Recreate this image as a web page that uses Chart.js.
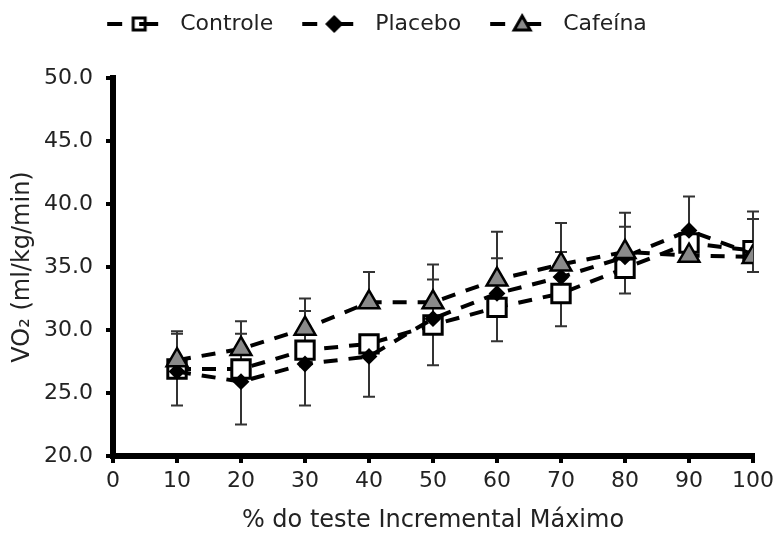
<!DOCTYPE html>
<html>
<head>
<meta charset="utf-8">
<script src="https://cdn.jsdelivr.net/npm/chart.js@4"></script>
<style>
  html, body { margin: 0; padding: 0; background: #fff; }
  #box { width: 779px; height: 534px; }
</style>
</head>
<body>
<div id="box"><canvas id="grafico"></canvas></div>
<script>
// dados
const percentuais = [10, 20, 30, 40, 50, 60, 70, 80, 90, 100];
const controle = [26.9, 26.9, 28.4, 28.9, 30.4, 31.8, 32.9, 34.9, 36.9, 36.3];
const placebo  = [26.7, 25.9, 27.3, 27.9, 30.9, 32.9, 34.2, 35.8, 37.9, 36.0];
const cafeina  = [27.6, 28.5, 30.1, 32.2, 32.2, 34.0, 35.2, 36.2, 35.9, 35.8];

// extremidades das barras de erro
const controleSup = [29.7, 29.7, 31.5, null, 34.0, 35.7, 36.2, 38.2, null, 38.8];
const placeboInf  = [24.0, 22.5, 24.0, 24.7, 27.2, 29.1, 30.3, 32.9, null, 34.6];
const cafeinaSup  = [29.9, 30.7, 32.5, 34.6, 35.2, 37.8, 38.5, 39.3, 40.6, 39.4];

const ticksY = [20, 25, 30, 35, 40, 45, 50];
const fonte = "'DejaVu Sans', sans-serif";
const corTexto = "#222";

function pontos(valores) {
  return valores.map((v, i) => ({ x: percentuais[i], y: v }));
}

// desenha o simbolo da legenda (traco + marcador)
function simboloLegenda(estilo) {
  const c = document.createElement("canvas");
  c.width = 80;
  c.height = 26;
  const ctx = c.getContext("2d");
  const cx = 50, cy = 13;
  ctx.strokeStyle = "#000";
  ctx.lineWidth = 4;
  ctx.beginPath();
  ctx.moveTo(18, cy); ctx.lineTo(33, cy);
  ctx.moveTo(cx, cy); ctx.lineTo(69, cy);
  ctx.stroke();
  ctx.lineWidth = 3;
  ctx.beginPath();
  if (estilo === "rect") {
    ctx.rect(cx - 6, cy - 6, 12, 12);
    ctx.fillStyle = "#fff";
  } else if (estilo === "rectRot") {
    ctx.moveTo(cx - 7, cy); ctx.lineTo(cx, cy - 7); ctx.lineTo(cx + 7, cy); ctx.lineTo(cx, cy + 7);
    ctx.closePath();
    ctx.fillStyle = "#000";
  } else {
    ctx.moveTo(cx, cy - 8); ctx.lineTo(cx + 8, cy + 6); ctx.lineTo(cx - 8, cy + 6);
    ctx.closePath();
    ctx.fillStyle = "#8a8a8a";
  }
  ctx.fill();
  ctx.stroke();
  if (estilo === "rect") {
    ctx.lineWidth = 4;
    ctx.beginPath(); ctx.moveTo(cx, cy); ctx.lineTo(cx + 10, cy); ctx.stroke();
  }
  return c;
}

// barras de erro
const barrasErro = {
  id: "barrasErro",
  beforeDatasetsDraw(chart) {
    const ctx = chart.ctx;
    const sx = chart.scales.x, sy = chart.scales.y;
    const grupos = [[controle, controleSup], [placebo, placeboInf], [cafeina, cafeinaSup]];
    ctx.save();
    ctx.strokeStyle = "#333";
    ctx.lineWidth = 2;
    grupos.forEach(([base, fim]) => {
      fim.forEach((v, i) => {
        if (v === null) return;
        const x = sx.getPixelForValue(percentuais[i]);
        const y0 = sy.getPixelForValue(base[i]);
        const y1 = sy.getPixelForValue(v);
        ctx.beginPath();
        ctx.moveTo(x, y0); ctx.lineTo(x, y1);
        ctx.moveTo(x - 6, y1); ctx.lineTo(x + 6, y1);
        ctx.stroke();
      });
    });
    ctx.restore();
  }
};

// espaco entre a legenda e o grafico, e legenda um pouco a esquerda
const margemLegenda = {
  id: "margemLegenda",
  beforeInit(chart) {
    const fitOriginal = chart.legend.fit;
    chart.legend.fit = function fit() {
      fitOriginal.bind(chart.legend)();
      this.height += 35;
    };
  },
  afterLayout(chart) {
    chart.legend.left -= 10;
    chart.legend.right -= 10;
    chart.legend.top += 2;
    chart.legend.bottom += 2;
  }
};

const simbolos = [simboloLegenda("rect"), simboloLegenda("rectRot"), simboloLegenda("triangle")];

new Chart(document.getElementById("grafico"), {
  type: "line",
  data: {
    datasets: [
      {
        label: "Controle",
        data: pontos(controle),
        borderColor: "#000",
        borderWidth: 4,
        borderDash: [14, 11],
        pointStyle: "rect",
        pointRadius: 13,
        pointBorderWidth: 3,
        pointBackgroundColor: "#fff",
        pointBorderColor: "#000",
        order: 2
      },
      {
        label: "Placebo",
        data: pontos(placebo),
        borderColor: "#000",
        borderWidth: 4,
        borderDash: [14, 11],
        pointStyle: "rectRot",
        pointRadius: 7,
        pointBorderWidth: 2,
        pointBackgroundColor: "#000",
        pointBorderColor: "#000",
        order: 1
      },
      {
        label: "Cafeína",
        data: pontos(cafeina),
        borderColor: "#000",
        borderWidth: 4,
        borderDash: [14, 11],
        pointStyle: "triangle",
        pointRadius: 12,
        pointBorderWidth: 2.5,
        pointBackgroundColor: "#8a8a8a",
        pointBorderColor: "#000",
        order: 0
      }
    ]
  },
  options: {
    responsive: true,
    maintainAspectRatio: false,
    animation: false,
    layout: { padding: { top: 0, right: 23, bottom: 0, left: 0 } },
    plugins: {
      tooltip: { enabled: false },
      legend: {
        position: "top",
        labels: {
          usePointStyle: true,
          pointStyleWidth: 80,
          padding: 11,
          color: corTexto,
          font: { family: fonte, size: 22 },
          generateLabels(chart) {
            return chart.data.datasets.map((ds, i) => ({
              text: ds.label,
              pointStyle: simbolos[i],
              fontColor: corTexto,
              lineWidth: 0,
              strokeStyle: "transparent",
              fillStyle: "transparent",
              datasetIndex: i,
              hidden: false
            }));
          }
        }
      }
    },
    scales: {
      x: {
        type: "linear",
        min: 0,
        max: 100,
        afterFit(scale) { scale.height = 78; },
        border: { display: true, color: "#000", width: 6 },
        grid: { drawOnChartArea: false, drawTicks: true, tickLength: 7, color: "#000", lineWidth: 4 },
        ticks: {
          stepSize: 10,
          padding: 5,
          color: corTexto,
          font: { family: fonte, size: 22 },
          maxRotation: 0
        },
        title: {
          display: true,
          text: "% do teste Incremental Máximo",
          color: corTexto,
          font: { family: fonte, size: 24, lineHeight: 1 },
          padding: { top: 0, bottom: 1 }
        }
      },
      y: {
        min: 20,
        max: 50,
        afterFit(scale) { scale.width = 113; },
        afterBuildTicks(scale) { scale.ticks = ticksY.map((v) => ({ value: v })); },
        border: { display: true, color: "#000", width: 6 },
        grid: { drawOnChartArea: false, drawTicks: true, tickLength: 7, color: "#000", lineWidth: 4 },
        ticks: {
          padding: 13,
          color: corTexto,
          font: { family: fonte, size: 22 },
          callback: (v) => Number(v).toFixed(1)
        },
        title: {
          display: true,
          text: "VO₂ (ml/kg/min)",
          color: corTexto,
          font: { family: fonte, size: 24, lineHeight: 1.2 },
          padding: { top: 8, bottom: 0 }
        }
      }
    }
  },
  plugins: [barrasErro, margemLegenda]
});
</script>
</body>
</html>
